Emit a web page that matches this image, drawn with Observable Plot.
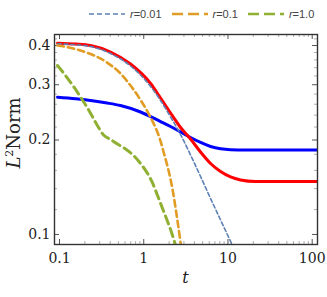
<!DOCTYPE html>
<html><head><meta charset="utf-8">
<script src="https://cdn.jsdelivr.net/npm/d3@7"></script>
<script src="https://cdn.jsdelivr.net/npm/@observablehq/plot@0.6"></script>
<style>
body{margin:0;background:#fff;}
#wrap{width:327px;height:297px;position:relative;overflow:hidden;}
#legend{height:28px;display:flex;align-items:center;padding-left:89px;box-sizing:border-box;font-family:"Liberation Sans",Arial,sans-serif;font-size:11px;color:#444;}
#legend .item{display:flex;align-items:center;margin-right:10px;}
#legend svg{display:block;margin-right:5px;}
</style></head><body><div id="wrap"><div id="legend"></div><div id="chart"></div></div>
<script>
// ---- data ----
const redT  = [0.0947, 0.1549, 0.2334, 0.4033, 0.6970, 1.2045, 1.583, 2.081, 2.736, 3.596, 4.727, 6.214, 8.168, 10.74, 14.11, 21.27, 42.14, 115.6];
const redV  = [0.4068, 0.4044, 0.4000, 0.3814, 0.3492, 0.3027, 0.2722, 0.2438, 0.2192, 0.2014, 0.1831, 0.1683, 0.1587, 0.1525, 0.1492, 0.1475, 0.1474, 0.1474];
const blueT = [0.0947, 0.1549, 0.2334, 0.3518, 0.5303, 0.9162, 1.583, 2.081, 2.736, 3.596, 4.727, 6.214, 8.168, 10.74, 16.18, 115.6];
const blueV = [0.2738, 0.2708, 0.2673, 0.2628, 0.2576, 0.2456, 0.2290, 0.2208, 0.2121, 0.2037, 0.1964, 0.1907, 0.1875, 0.1863, 0.1860, 0.1860];
const r001T = [0.0947, 0.1549, 0.2334, 0.4033, 0.6970, 1.2045, 1.583, 2.081, 2.736, 3.596, 4.727, 6.214, 8.168, 10.74, 12.31];
const r001V = [0.4050, 0.4021, 0.3971, 0.3772, 0.3442, 0.2962, 0.2673, 0.2368, 0.2082, 0.1791, 0.1530, 0.1302, 0.1112, 0.0950, 0.0876];
const r01T  = [0.0947, 0.1549, 0.2334, 0.3518, 0.5303, 0.6970, 0.9162, 1.140, 1.344, 1.540, 1.766, 1.970, 2.198, 2.452, 2.736, 2.970];
const r01V  = [0.4000, 0.3899, 0.3758, 0.3557, 0.3256, 0.2982, 0.2683, 0.2429, 0.2224, 0.2030, 0.1785, 0.1599, 0.1391, 0.1158, 0.0943, 0.0802];
const r1T   = [0.0947, 0.1178, 0.1466, 0.1825, 0.2271, 0.2750, 0.3332, 0.4033, 0.4885, 0.6077, 0.7568, 0.9162, 1.110, 1.272, 1.458, 1.672, 1.918, 2.139, 2.387, 2.520];
const r1V   = [0.3455, 0.3210, 0.2962, 0.2711, 0.2466, 0.2249, 0.2074, 0.2008, 0.1942, 0.1872, 0.1785, 0.1683, 0.1564, 0.1459, 0.1331, 0.1210, 0.1100, 0.1015, 0.0922, 0.0876];

const legendNames = ["0.01", "0.1", "1.0"];
const xMajor = [0.1, 1, 10, 100];
const xMinor = [0.2,0.3,0.4,0.5,0.6,0.7,0.8,0.9,2,3,4,5,6,7,8,9,20,30,40,50,60,70,80,90];
const yMajor = [0.1, 0.2, 0.3, 0.4];
const yMinor = [0.12,0.14,0.16,0.18,0.22,0.24,0.26,0.28,0.32,0.34,0.36,0.38,0.42];

// ---- styles ----
const series = [
  {key:"blue", t:blueT, v:blueV, stroke:"#0000ff", w:3, dash:null},
  {key:"red",  t:redT,  v:redV,  stroke:"#ff0000", w:3, dash:null},
  {key:"r001", t:r001T, v:r001V, stroke:"#5E81B5", w:1.6, dash:"4,2.5", leg:"5,3"},
  {key:"r01",  t:r01T,  v:r01V,  stroke:"#E19C24", w:2.6, dash:"6.5,4", leg:"11,5"},
  {key:"r1",   t:r1T,   v:r1V,   stroke:"#8FB032", w:3,   dash:"8.5,5", leg:"11,5"}
];

const W = 327, H = 269, mT = 6, mB = 53, mL = 54, mR = 10;
const innerW = W - mL - mR, innerH = H - mT - mB;

const lineMarks = series.map(s => {
  const rows = s.t.map((t, i) => ({t, v: s.v[i]}));
  return Plot.line(rows, {x:"t", y:"v", stroke:s.stroke, strokeWidth:s.w,
    strokeDasharray:s.dash || undefined, curve:"monotone-x", clip:true});
});

const tickCol = "#555", minorCol = "#999";
const chart = Plot.plot({
  width: W, height: H, marginTop: mT, marginBottom: mB, marginLeft: mL, marginRight: mR,
  style: {fontFamily: "'DejaVu Serif', serif", fontSize: "14px", background: "#fff", color: "#222"},
  x: {type: "log", domain: [0.0872, 115.6]},
  y: {type: "log", domain: [0.0929, 0.4337]},
  marks: [
    Plot.axisX({ticks: xMajor, tickSize: 0, tickPadding: 9, tickFormat: d => String(d), label: null}),
    Plot.axisY({ticks: yMajor, tickSize: 0, tickPadding: 4, tickFormat: d => String(d), label: null}),
    Plot.tickX(xMajor, {x: d => d, insetTop: innerH - 5, stroke: tickCol, strokeWidth: 1}),
    Plot.tickX(xMajor, {x: d => d, insetBottom: innerH - 5, stroke: tickCol, strokeWidth: 1}),
    Plot.tickX(xMinor, {x: d => d, insetTop: innerH - 3, stroke: minorCol, strokeWidth: 0.8}),
    Plot.tickX(xMinor, {x: d => d, insetBottom: innerH - 3, stroke: minorCol, strokeWidth: 0.8}),
    Plot.tickY(yMajor, {y: d => d, insetRight: innerW - 5, stroke: tickCol, strokeWidth: 1}),
    Plot.tickY(yMajor, {y: d => d, insetLeft: innerW - 5, stroke: tickCol, strokeWidth: 1}),
    Plot.tickY(yMinor, {y: d => d, insetRight: innerW - 3, stroke: minorCol, strokeWidth: 0.8}),
    Plot.tickY(yMinor, {y: d => d, insetLeft: innerW - 3, stroke: minorCol, strokeWidth: 0.8}),
    ...lineMarks,
    Plot.frame({stroke: "#333", strokeWidth: 1.4})
  ]
});

document.getElementById("chart").appendChild(chart);

// axis titles (positioned from their measured length)
const sel = d3.select(chart);
const xl = sel.append("text")
  .attr("text-anchor", "start").style("text-anchor", "start")
  .style("font-family", "'DejaVu Serif', serif").style("font-size", "16px").style("font-style", "italic")
  .attr("fill", "#222").text("t");
const xw = xl.node().getComputedTextLength();
xl.attr("x", mL + innerW / 2 - xw / 2).attr("y", 255);

const yl = sel.append("text")
  .attr("text-anchor", "start").style("text-anchor", "start")
  .style("font-family", "'DejaVu Serif', serif").style("font-size", "18px").attr("fill", "#222");
yl.append("tspan").style("font-style", "italic").text("L");
yl.append("tspan").attr("dy", "-7").style("font-size", "11px").text("2");
yl.append("tspan").attr("dy", "7").text("Norm");
const yw = yl.node().getComputedTextLength();
yl.attr("transform", `translate(20,${105 + yw / 2}) rotate(-90)`);

// legend
const leg = d3.select("#legend");
series.filter(s => s.leg).forEach((s, i) => {
  const it = leg.append("div").attr("class", "item");
  const sw = it.append("svg").attr("width", 36).attr("height", 8);
  sw.append("line").attr("x1", 0).attr("x2", 36).attr("y1", 4).attr("y2", 4)
    .attr("stroke", s.stroke).attr("stroke-width", Math.min(s.w, 2.6)).attr("stroke-dasharray", s.leg);
  const sp = it.append("span");
  sp.append("i").text("r");
  sp.append("span").text("=" + legendNames[i]);
});
</script>
</body></html>
